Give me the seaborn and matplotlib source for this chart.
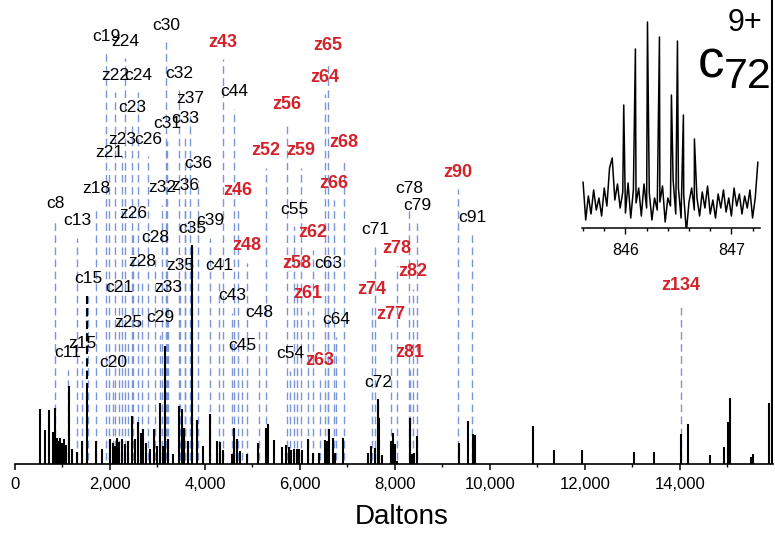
import matplotlib
matplotlib.use("Agg")
import matplotlib.pyplot as plt
import matplotlib.ticker as mticker
import numpy as np
import pandas as pd
import seaborn as sns

# ---- espectro deconvoluido (Da, intensidade relativa %) ----
peak_mass = [526, 632, 716, 800, 842, 884, 905, 947, 989, 1032, 1074, 1137, 1200, 1305,
             1411, 1516, 1705, 1832, 2000, 2063, 2105, 2147, 2189, 2253, 2316, 2379, 2463,
             2526, 2589, 2653, 2695, 2758, 2842, 2926, 2989, 3053, 3116, 3158, 3221, 3326,
             3453, 3516, 3558, 3642, 3726, 3832, 3958, 4105, 4253, 4316, 4379, 4568, 4611,
             4674, 4737, 4884, 5116, 5284, 5326, 5453, 5621, 5705, 5768, 5811, 5874, 5937,
             5979, 6042, 6168, 6274, 6400, 6526, 6568, 6611, 6695, 6737, 6905, 7432, 7495,
             7579, 7642, 7663, 7726, 7916, 7958, 8000, 8042, 8316, 8358, 8400, 8463, 9347,
             9537, 9642, 9684, 10905, 11347, 11937, 13032, 13453, 14021, 14168, 14632,
             14926, 15011, 15053, 15495, 15537, 15874, 15937]
peak_int = [11.9, 7.3, 11.7, 6.9, 12.1, 5.6, 5.0, 5.6, 4.5, 5.4, 4.1, 16.8, 3.2, 2.6,
            5.0, 17.5, 5.0, 3.2, 5.4, 4.5, 3.9, 5.6, 4.8, 5.4, 4.3, 5.0, 10.4,
            5.4, 9.1, 6.7, 7.6, 4.5, 3.2, 7.6, 3.9, 13.2, 3.9, 25.5, 5.4, 2.2,
            12.5, 11.9, 7.8, 5.0, 47.3, 9.5, 3.9, 10.8, 5.0, 4.8, 3.0, 2.2, 7.8,
            5.4, 2.8, 2.2, 4.5, 7.8, 8.6, 5.2, 3.7, 4.1, 3.7, 3.0, 3.2, 3.2,
            3.2, 3.0, 5.4, 2.4, 2.4, 5.2, 5.0, 7.6, 5.6, 2.4, 5.6, 2.4, 3.9,
            3.5, 14.0, 9.9, 1.9, 5.0, 6.7, 4.3, 0.6, 9.9, 2.2, 2.4, 6.0, 4.5,
            9.3, 6.5, 6.3, 8.2, 3.0, 3.0, 2.6, 2.6, 6.5, 8.6, 1.9,
            3.7, 9.1, 14.3, 1.5, 2.2, 13.2, 110.0]

# ---- ions atribuidos: nome, massa (Da), altura do rotulo (%) ----
ion_names = ["c8", "c11", "c13", "z15", "c15", "z18", "c19", "c20", "z21", "c21", "z22",
             "z23", "c23", "z24", "c24", "z25", "z26", "c26", "z28", "c28", "c29", "c30",
             "c31", "z32", "c32", "z33", "c33", "z35", "c35", "z36", "c36", "z37", "c39",
             "c41", "z43", "c43", "c44", "c45", "z46", "z48", "c48", "z52", "c54", "c55",
             "z56", "z58", "z59", "z61", "z62", "c63", "z63", "z64", "c64", "z65", "z66",
             "z68", "c71", "c72", "z74", "z77", "z78", "c78", "c79", "z81", "z82", "z90",
             "c91", "z134"]
ion_mass = [842, 1116, 1305, 1411, 1537, 1705, 1916, 2063, 1979, 2189, 2105,
            2253, 2463, 2316, 2589, 2379, 2484, 2800, 2674, 2947, 3053, 3179,
            3200, 3095, 3453, 3221, 3579, 3474, 3726, 3579, 3853, 3684, 4105,
            4295, 4379, 4568, 4611, 4779, 4695, 4884, 5137, 5284, 5789, 5874,
            5726, 5937, 6021, 6168, 6274, 6589, 6421, 6526, 6758, 6589, 6716,
            6926, 7579, 7642, 7516, 7916, 8042, 8295, 8463, 8316, 8379, 9326,
            9621, 14021]
ion_level = [56.2, 24.0, 52.5, 25.9, 40.0, 59.4, 92.2, 21.8, 67.2, 38.0, 83.8,
             70.0, 76.9, 91.1, 83.8, 30.5, 54.0, 70.0, 43.6, 48.8, 31.5, 94.6,
             73.4, 59.6, 84.2, 38.0, 74.5, 42.8, 50.8, 60.0, 64.8, 78.8, 52.5,
             42.8, 90.9, 36.3, 80.3, 25.5, 59.0, 47.1, 32.6, 67.6, 23.8, 54.9,
             77.5, 43.2, 67.6, 36.7, 49.9, 43.2, 22.2, 83.4, 31.1, 90.3, 60.5,
             69.3, 50.5, 17.5, 37.6, 32.2, 46.4, 59.4, 55.7, 24.0, 41.5, 62.9,
             53.1, 38.4]
ions_destaque = ["z43", "z46", "z48", "z52", "z56", "z58", "z59", "z61", "z62", "z63",
                 "z64", "z65", "z66", "z68", "z74", "z77", "z78", "z81", "z82", "z90",
                 "z134"]

# ---- inset: distribuicao isotopica c72 9+ ----
inset_noise = [46, 8, 32, 14, 38, 18, 30, 12, 40, 22, 60, 70, 28, 44, 20, 36, 15, 45,
               10, 38, 25, 40, 12, 44, 20, 35, 8, 30, 18, 26, 42, 6, 30, 22, 48, 14,
               40, 10, 33, -4, 26, 40, 18, 30, 12, 36, 20, 42, 14, 28, 10, 34, 20, 38,
               16, 30, 12, 40, 22, 34, 14, 32, 20, 38, 10, 30, 66]
iso_mz = [845.984, 846.094, 846.208, 846.321, 846.434, 846.491, 846.547, 846.651]
iso_int = [123, 179, 206, 191, 133, 187, 113, 89]

sns.set_theme(style="white")
fonte_narrow = ["Liberation Sans Narrow", "Liberation Sans", "DejaVu Sans"]
plt.rcParams["font.family"] = fonte_narrow
plt.rcParams["text.color"] = "black"
plt.rcParams["axes.labelcolor"] = "black"
vermelho = "#d3222a"
azul = "#7b97d6"

W, H = 775, 533
fig = plt.figure(figsize=(W / 100, H / 100), dpi=100)
ax = fig.add_axes([15 / W, (H - 464) / H, 758 / W, 464 / H])

# linhas tracejadas das atribuicoes
for nome, m, lv in zip(ion_names, ion_mass, ion_level):
    ax.plot([m, m], [0.8, lv - 3.7], color=azul, lw=1.0,
            linestyle=(0, (5.5, 3.2)), zorder=1)
    if nome in ions_destaque:
        ax.text(m, lv, nome, ha="center", va="center", fontsize=13,
                fontweight="bold", color=vermelho, family=["Liberation Sans", "DejaVu Sans"],
                zorder=4)
    else:
        ax.text(m, lv, nome, ha="center", va="center", fontsize=12.5,
                color="black", zorder=4)

# espectro
ax.vlines(peak_mass, 0, peak_int, color="black", lw=1.5, zorder=2)
ax.plot([1516, 1516], [18.4, 36.3], color="black", lw=1.5,
        linestyle=(0, (4, 2)), zorder=2)

ax.set_xlim(0, 15960)
ax.set_ylim(0, 100)
sns.despine(ax=ax, left=True, top=True, right=True)
ax.spines["bottom"].set_linewidth(1.2)
ax.spines["bottom"].set_color("black")
ax.set_yticks([])
ax.xaxis.set_major_locator(mticker.MultipleLocator(2000))
ax.xaxis.set_minor_locator(mticker.MultipleLocator(1000))
ax.xaxis.set_major_formatter(mticker.FuncFormatter(lambda v, p: f"{v:,.0f}"))
ax.tick_params(axis="x", which="major", length=4.5, width=1.1, direction="out",
               labelsize=12, pad=5, colors="black", bottom=True)
ax.tick_params(axis="x", which="minor", length=2.5, width=1.0, direction="out",
               bottom=True, colors="black")
ax.set_xlabel("Daltons", fontsize=20, family=["Liberation Sans", "DejaVu Sans"],
              va="center", color="black")
ax.xaxis.set_label_coords((402 - 15) / 758, -53 / 464)

# inset
noise_x = np.linspace(845.60, 847.25, len(inset_noise))
df_in = pd.DataFrame({"mz": np.concatenate([noise_x, iso_mz]),
                      "int": np.concatenate([inset_noise, iso_int])}).sort_values("mz")
axi = fig.add_axes([582 / W, (H - 228) / H, 178 / W, 208 / H])
sns.lineplot(data=df_in, x="mz", y="int", ax=axi, color="black", lw=1.1,
             estimator=None, sort=False)
axi.set_xlim(845.59, 847.27)
axi.set_ylim(0, 208)
axi.set_facecolor("none")
sns.despine(ax=axi, left=True, top=True, right=True)
axi.spines["bottom"].set_linewidth(1.1)
axi.spines["bottom"].set_color("black")
axi.set_yticks([])
axi.set_xlabel("")
axi.set_ylabel("")
axi.xaxis.set_major_locator(mticker.FixedLocator([846, 847]))
axi.xaxis.set_minor_locator(mticker.MultipleLocator(0.2))
axi.xaxis.set_major_formatter(mticker.FormatStrFormatter("%d"))
axi.tick_params(axis="x", which="major", length=4.5, width=1.0, labelsize=11.5,
                pad=6, bottom=True, colors="black")
axi.tick_params(axis="x", which="minor", length=2.5, width=1.0, bottom=True,
                colors="black")

# rotulo do inset
fig.text(711 / W, 1 - 77 / H, "c", fontsize=38, ha="center", va="baseline", color="black")
fig.text(724 / W, 1 - 88 / H, "72", fontsize=31, ha="left", va="baseline", color="black")
fig.text(762 / W, 1 - 31 / H, "9+", fontsize=22, ha="right", va="baseline", color="black")

fig.savefig("out.png", dpi=100)
